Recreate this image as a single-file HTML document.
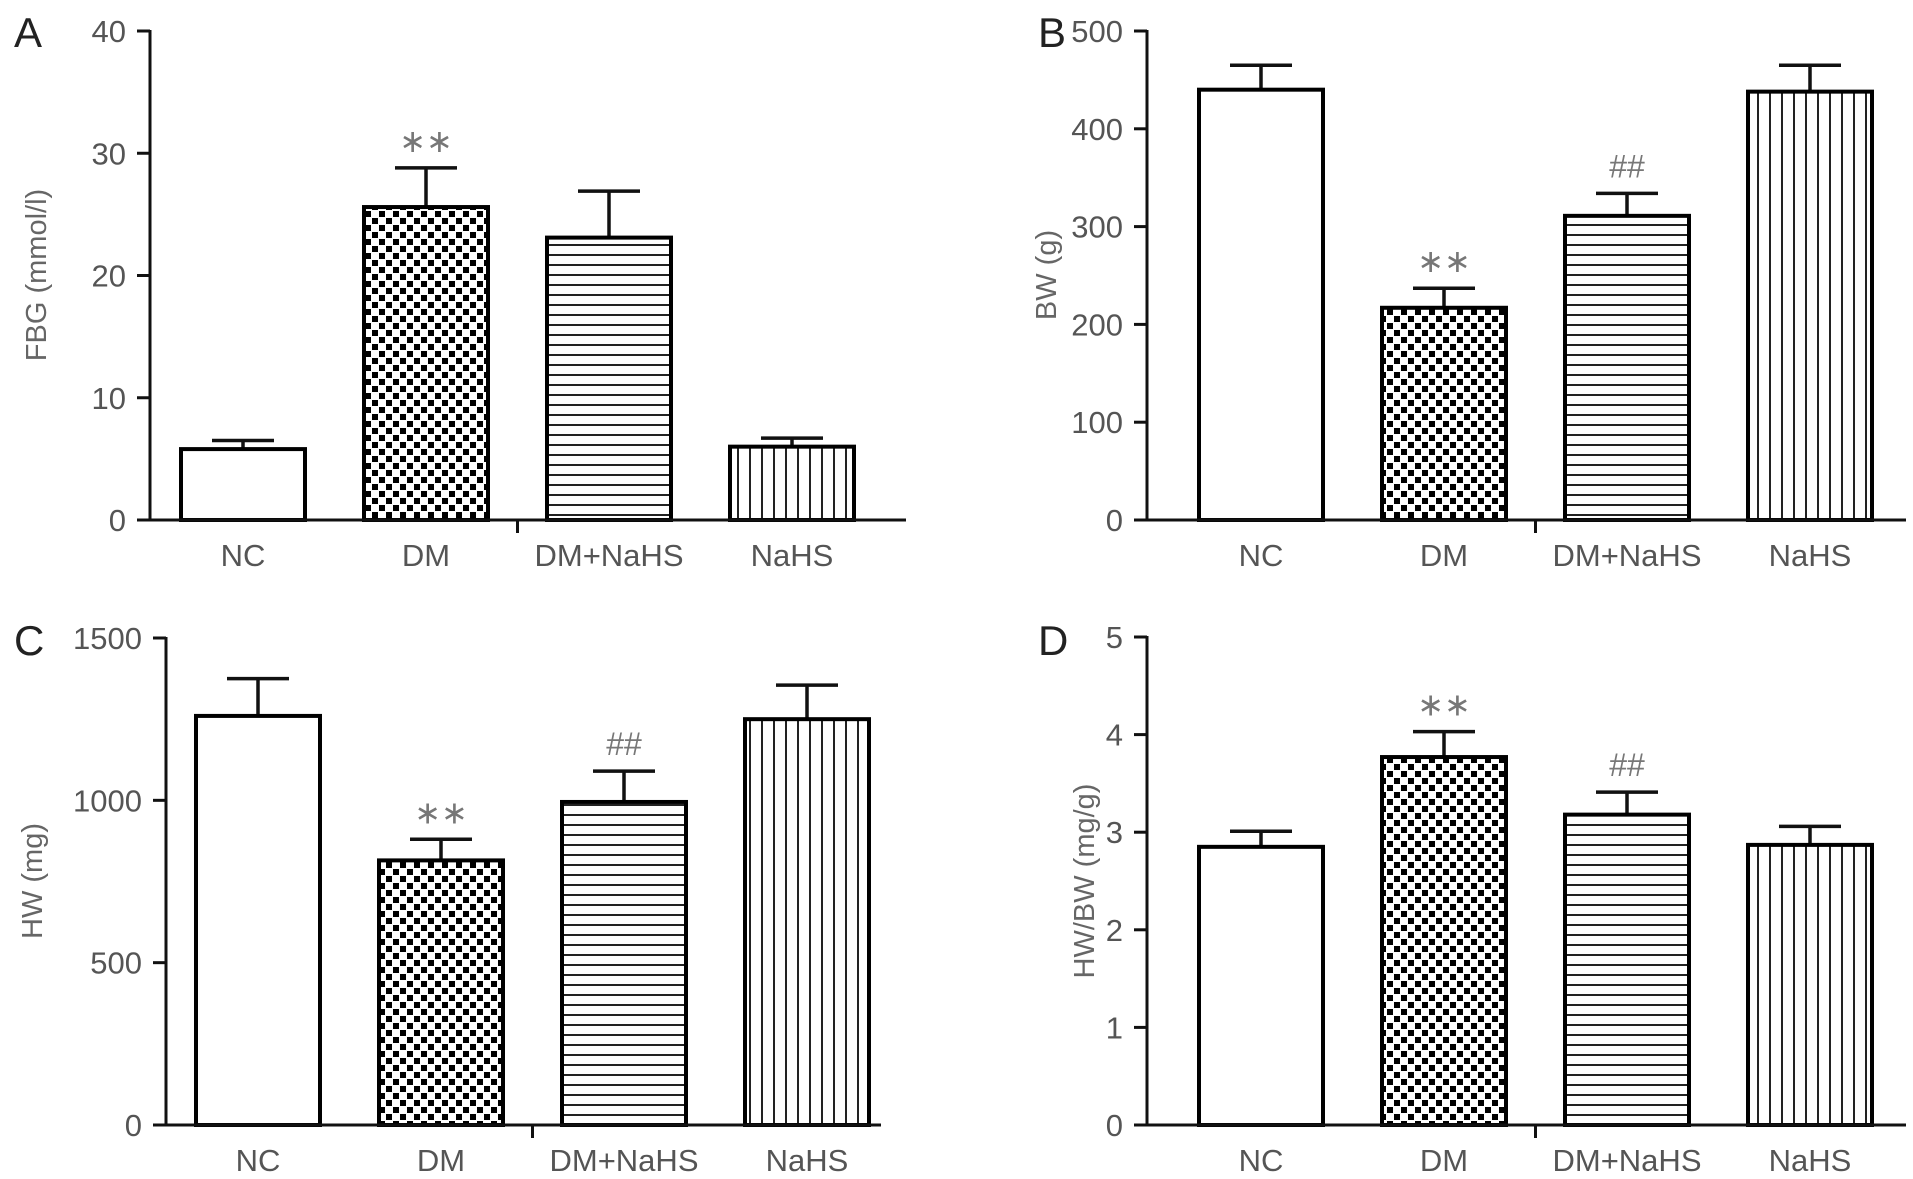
<!DOCTYPE html>
<html><head><meta charset="utf-8"><style>
html,body{margin:0;padding:0;background:#fff}
svg{display:block}
text{font-family:"Liberation Sans",sans-serif}
</style></head><body>
<svg id="fig" width="1913" height="1179" viewBox="0 0 1913 1179" xmlns="http://www.w3.org/2000/svg">
<defs>
<pattern id="pChk" width="14" height="14" patternUnits="userSpaceOnUse"><rect width="14" height="14" fill="#fff"/><rect x="1" y="1" width="6" height="6" fill="#000"/><rect x="8" y="8" width="6" height="6" fill="#000"/></pattern>
<pattern id="pHor" width="10" height="10" patternUnits="userSpaceOnUse"><rect width="10" height="10" fill="#fff"/><rect y="4" width="10" height="2" fill="#222"/></pattern>
<pattern id="pVer" width="12" height="10" patternUnits="userSpaceOnUse"><rect width="12" height="10" fill="#fff"/><rect x="5" width="2" height="10" fill="#222"/></pattern>
</defs>
</svg>
<script>
const categories = ["NC","DM","DM+NaHS","NaHS"];
const fbgValues = [5.8, 25.6, 23.1, 6.0];
const fbgErrors = [0.7, 3.2, 3.8, 0.7];
const fbgTicks = [0,10,20,30,40];
const bwValues = [440, 217, 311, 438];
const bwErrors = [25, 20, 23, 27];
const bwTicks = [0,100,200,300,400,500];
const hwValues = [1260, 815, 995, 1250];
const hwErrors = [115, 65, 95, 105];
const hwTicks = [0,500,1000,1500];
const ratioValues = [2.85, 3.77, 3.18, 2.87];
const ratioErrors = [0.16, 0.26, 0.23, 0.19];
const ratioTicks = [0,1,2,3,4,5];
const fbgMarks = ["", "∗∗", "", ""];
const bwMarks = ["", "∗∗", "##", ""];
const hwMarks = ["", "∗∗", "##", ""];
const ratioMarks = ["", "∗∗", "##", ""];

const svg = document.getElementById('fig');
const NS = "http://www.w3.org/2000/svg";
const fills = ["#fff","url(#pChk)","url(#pHor)","url(#pVer)"];
function mk(tag, attrs, parent){
  const e = document.createElementNS(NS, tag);
  for (const k in attrs) e.setAttribute(k, attrs[k]);
  (parent||svg).appendChild(e);
  return e;
}
function panel(cfg){
  const g = mk('g', {});
  
  
  const max = cfg.ticks[cfg.ticks.length-1];
  const y = v => cfg.y0 - (v/max)*(cfg.y0 - cfg.yTop);
  const xBar = i => cfg.firstBar + i*183;
  const bw = 124;
  const lt = mk('text', {x: cfg.lx, y: cfg.ly, 'font-size': 42, fill: '#222'}, g);
  lt.textContent = cfg.letter;
  
  
  const ttl = mk('text', {x: cfg.tx, y: cfg.ty, 'font-size': 29, fill: '#666', 'text-anchor': 'middle', transform: `rotate(-90 ${cfg.tx} ${cfg.ty})`}, g);
  ttl.textContent = cfg.title;
  
  
  cfg.ticks.forEach(t => {
    const ln = mk('line', {x1: cfg.ax-13, x2: cfg.ax, y1: y(t), y2: y(t), stroke: '#111', 'stroke-width': 3}, g);
    
    
    const tl = mk('text', {x: cfg.ax-24, y: y(t)+11, 'font-size': 31, fill: '#555', 'text-anchor': 'end'}, g);
    tl.textContent = t;
    
    
  });
  categories.forEach((c, i) => {
    const x = xBar(i), top = y(cfg.values[i]), et = y(cfg.values[i] + cfg.errors[i]);
    const cx = x + bw/2;
    const el = mk('line', {x1: cx, x2: cx, y1: top, y2: et, stroke: '#111', 'stroke-width': 3.5}, g);
    
    
    const cap = mk('line', {x1: cx-31, x2: cx+31, y1: et, y2: et, stroke: '#111', 'stroke-width': 3.5}, g);
    
    
    const r = mk('rect', {x: x, y: top, width: bw, height: cfg.y0 - top, fill: fills[i], stroke: '#000', 'stroke-width': 4}, g);
    
    
    if (cfg.marks[i]) {
      const m = mk('text', {x: cx, y: et - 16, 'font-size': 32, fill: '#777', 'text-anchor': 'middle'}, g);
      m.textContent = cfg.marks[i];
      
      
    }
    const xl = mk('text', {x: cx, y: cfg.y0 + 46, 'font-size': 31, fill: '#555', 'text-anchor': 'middle'}, g);
    xl.textContent = c;
    
    
  });
  const ya = mk('line', {x1: cfg.ax, x2: cfg.ax, y1: cfg.yTop-1, y2: cfg.y0, stroke: '#111', 'stroke-width': 3}, g);
  
  
  const xa = mk('line', {x1: cfg.ax-13, x2: cfg.xEnd, y1: cfg.y0, y2: cfg.y0, stroke: '#111', 'stroke-width': 3}, g);
  
  
  const mx = (xBar(1) + bw + xBar(2)) / 2;
  const mt = mk('line', {x1: mx, x2: mx, y1: cfg.y0, y2: cfg.y0+13, stroke: '#111', 'stroke-width': 3}, g);
  
  
}
panel({letter:'A', lx:14, ly:47, title:'FBG (mmol/l)', tx:46, ty:275, ax:150, y0:520, yTop:31, firstBar:181, xEnd:906, ticks:fbgTicks, values:fbgValues, errors:fbgErrors, marks:fbgMarks});
panel({letter:'B', lx:1038, ly:47, title:'BW (g)', tx:1056, ty:275, ax:1147, y0:520, yTop:31, firstBar:1199, xEnd:1906, ticks:bwTicks, values:bwValues, errors:bwErrors, marks:bwMarks});
panel({letter:'C', lx:14, ly:655, title:'HW (mg)', tx:42, ty:881, ax:166, y0:1125, yTop:638, firstBar:196, xEnd:881, ticks:hwTicks, values:hwValues, errors:hwErrors, marks:hwMarks});
panel({letter:'D', lx:1038, ly:655, title:'HW/BW (mg/g)', tx:1094, ty:881, ax:1147, y0:1125, yTop:637, firstBar:1199, xEnd:1906, ticks:ratioTicks, values:ratioValues, errors:ratioErrors, marks:ratioMarks});
</script>
</body></html>
